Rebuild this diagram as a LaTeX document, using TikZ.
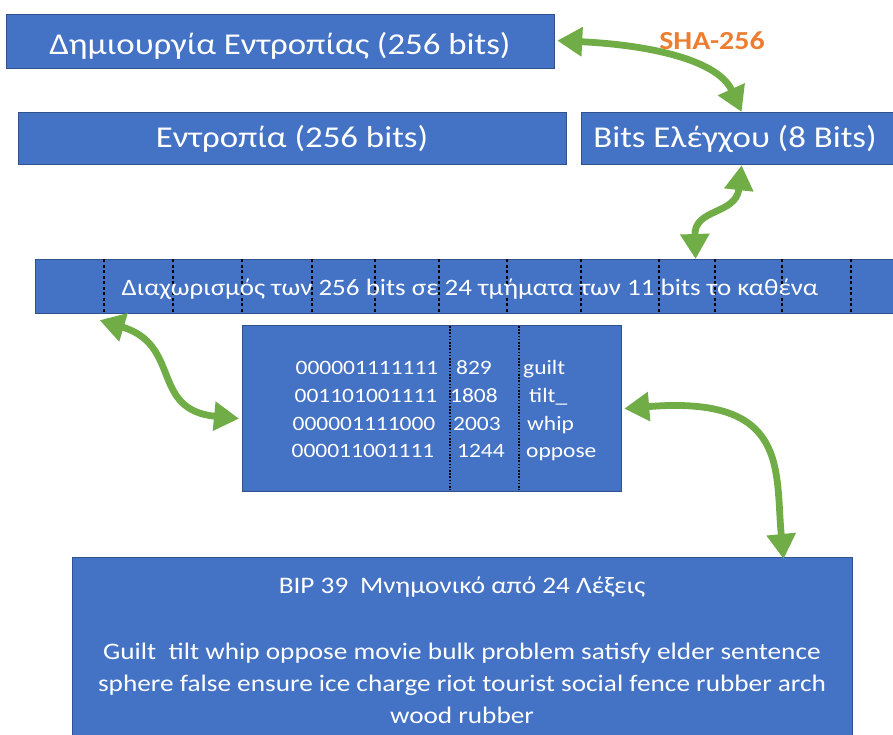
\documentclass[tikz,border=0pt]{standalone}
\usepackage{fontspec}
\setmainfont[FakeStretch=1.15]{Carlito}
\usetikzlibrary{arrows.meta}
\definecolor{boxblue}{HTML}{4472C4}
\definecolor{edgeblue}{HTML}{2F528F}
\definecolor{arrgreen}{HTML}{70AD47}
\definecolor{shaorange}{HTML}{ED7D31}
\begin{document}
\begin{tikzpicture}[x=1pt,y=-1pt,
 bluebox/.style={draw=edgeblue, fill=boxblue, line width=1.2pt, inner sep=0pt, anchor=north west},
 txt/.style={text=white, inner sep=0pt, anchor=base},
 bigf/.style={font=\fontsize{30.3}{36}\selectfont},
 stripf/.style={font=\fontsize{23.5}{28}\selectfont},
 midf/.style={font=\fontsize{20.4}{24}\selectfont},
 wordf/.style={font=\fontsize{23.7}{28}\selectfont},
 dbl/.style={draw=arrgreen, line width=6.8pt, {Triangle[length=25pt,width=28pt]}-{Triangle[length=25pt,width=28pt]}},
 divdash/.style={black, line width=1.2pt, dash pattern=on 3pt off 2.5pt},
 divdot/.style={black, line width=1.6pt, dash pattern=on 1.6pt off 1.6pt}]
\useasboundingbox (0,0) rectangle (893,735);
% top boxes
\node[bluebox, minimum width=548pt, minimum height=54pt] (b1) at (6,14) {};
\node[bluebox, minimum width=548pt, minimum height=52pt] (b2) at (18,112) {};
\node[bluebox, minimum width=314pt, minimum height=52pt] (b3) at (581,112) {};
\node[txt, bigf] (t1) at (280,55) {Δημιουργία Εντροπίας (256 bits)};
\node[txt, bigf] (t2) at (292,148) {Εντροπία (256 bits)};
\node[txt, bigf] (t3) at (735,148) {Bits Ελέγχου (8 Bits)};
\node[text=shaorange, inner sep=0pt, anchor=base, font=\fontsize{26}{30}\selectfont\bfseries] (sha) at (712,50) {SHA-256};
% strip
\node[bluebox, minimum width=862pt, minimum height=54pt] (strip) at (35,259) {};
\foreach \xx in {104,173,242,312,375,439,507,581,659,715,782,851}
  \draw[divdash] (\xx,259) -- (\xx,313);
\node[txt, stripf] (ts) at (470,295) {Διαχωρισμός των 256 bits σε 24 τμήματα των 11 bits το καθένα};
% middle box
\node[bluebox, minimum width=379pt, minimum height=166pt] (mid) at (242,325) {};
\draw[divdot] (450,326) -- (450,490);
\draw[divdot] (519,326) -- (519,490);
\node[txt, midf] (r1a) at (367,374) {000001111111};
\node[txt, midf] (r2a) at (366,402) {001101001111};
\node[txt, midf] (r3a) at (364,430) {000001111000};
\node[txt, midf] (r4a) at (363,457) {000011001111};
\node[txt, midf, anchor=base west] (r1b) at (456,374) {829};
\node[txt, midf, anchor=base west] (r2b) at (450,402) {1808};
\node[txt, midf, anchor=base west] (r3b) at (453,430) {2003};
\node[txt, midf, anchor=base west] (r4b) at (457,457) {1244};
\node[txt, midf, anchor=base west] (r1c) at (523,374) {guilt};
\node[txt, midf, anchor=base west] (r2c) at (529,402) {tilt\_};
\node[txt, midf, anchor=base west] (r3c) at (527,430) {whip};
\node[txt, midf, anchor=base west] (r4c) at (526,457) {oppose};
% big box
\node[bluebox, minimum width=780pt, minimum height=190pt] (big) at (72,557) {};
\node[txt, wordf] (w0) at (462,593) {BIP 39\enspace Μνημονικό από 24 Λέξεις};
\node[txt, wordf] (w1) at (462,659) {Guilt\ \ tilt whip oppose movie bulk problem satisfy elder sentence};
\node[txt, wordf] (w2) at (462,691) {sphere false ensure ice charge riot tourist social fence rubber arch};
\node[txt, wordf] (w3) at (462,723) {wood rubber};
% arrows
\draw[dbl] ([xshift=2pt,yshift=1pt]b1.east) .. controls (650,45) and (718,60) .. ([xshift=3pt]b3.north);
\draw[dbl] ([xshift=3pt]b3.south) .. controls (736,215) and (694,208) .. ([xshift=229pt]strip.north);
\draw[dbl] ([xshift=-367pt,yshift=-6pt]strip.south) .. controls (182,345) and (150,410) .. ([xshift=-3pt,yshift=-10pt]mid.west);
\draw[dbl] ([xshift=2pt]mid.east) .. controls (790,395) and (775,470) .. ([xshift=321pt,yshift=-2pt]big.north);
\end{tikzpicture}
\end{document}
